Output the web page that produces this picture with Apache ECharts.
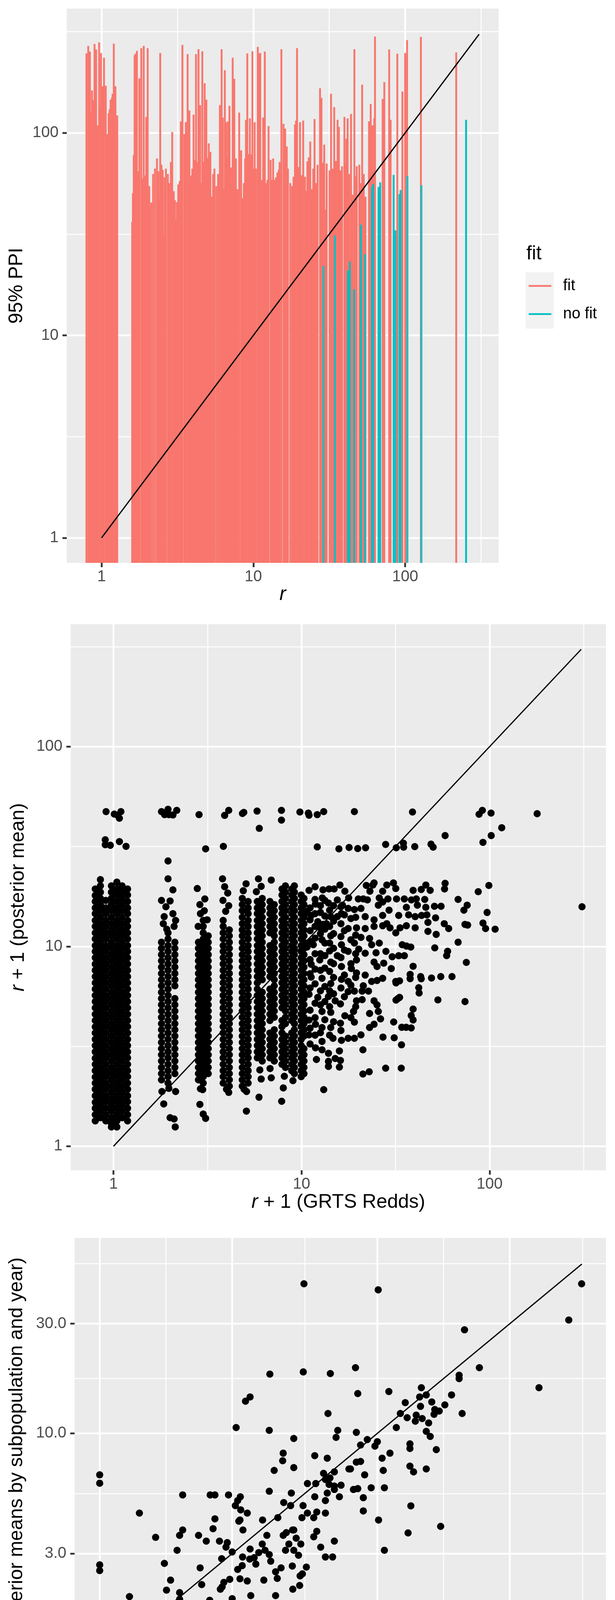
<!DOCTYPE html>
<html>
<head>
<meta charset="utf-8">
<title>GRTS redds vs posterior</title>
<script src="https://cdn.jsdelivr.net/npm/echarts@6.0.0/dist/echarts.min.js"></script>
<style>
  html, body { margin: 0; padding: 0; background: #ffffff; }
  #chart { width: 1575px; height: 4725px; }
</style>
</head>
<body>
<div id="chart"></div>
<script>
// ---------- panel 1: upper 95% PPI per r ----------
const ppiFit = [
  [0.795,247],[0.817,269],[0.838,252],[0.852,128],[0.865,162],[0.881,145],[0.899,275],[0.921,258],
  [0.938,109],[0.948,104],[0.964,280],[0.979,132],[0.992,248],[1.008,153],[1.018,170],[1.038,235],
  [1.066,171],[1.088,98.7],[1.097,78.7],[1.114,125],[1.13,131],[1.147,146],[1.163,75.4],[1.172,150],
  [1.182,156],[1.204,276],[1.234,170],[1.249,80.6],[1.268,122],
  [1.591,36.3],[1.609,50.4],[1.63,77.8],[1.651,242],[1.673,246],[1.709,254],[1.742,64.6],[1.774,186],
  [1.827,262],[1.862,59.6],[1.896,269],[1.935,61.5],[1.97,120],[2.013,262],[2.062,54.6],[2.09,42.4],
  [2.124,45.3],[2.185,62.6],[2.249,66.6],[2.317,74.7],[2.365,64.6],[2.391,47.4],[2.435,248],[2.483,69.6],
  [2.527,65.7],[2.572,31.3],[2.604,60.4],[2.655,66.6],[2.734,62.6],[2.793,56.5],[2.827,47.4],[2.862,71.8],
  [2.921,101],[2.988,51.5],[3.045,46.5],[3.09,37.3],[3.14,45.5],[3.2,55.6],[3.27,57.8],[3.33,114],
  [3.41,272],[3.51,98.7],[3.59,113],[3.69,245],[3.79,129],[3.86,60.4],[3.9,61.5],[3.96,66.6],
  [4.04,123],[4.11,73.6],[4.19,245],[4.27,71.8],[4.35,259],[4.46,137],[4.53,56.5],[4.61,253],
  [4.69,71.8],[4.78,176],[4.9,146],[4.98,75.4],[5.09,88.8],[5.21,80.6],[5.31,48.4],[5.43,62.6],
  [5.54,66.6],[5.7,54.6],[5.86,62.6],[6.02,137],[6.18,259],[6.29,119],[6.36,52.7],[6.49,204],
  [6.62,113],[6.71,75.7],[6.81,114],[6.96,136],[7.13,67.5],[7.31,235],[7.49,185],[7.67,74.7],
  [7.86,52.7],[8.07,126],[8.31,81.9],[8.49,47.6],[8.66,56.5],[8.83,74.7],[8.94,116],[9.12,247],
  [9.3,78.7],[9.49,118],[9.67,78.2],[9.86,253],[10.04,66.6],[10.2,113],[10.4,66.6],[10.7,266],
  [10.9,246],[11.1,248],[11.4,58.6],[11.6,119],[11.9,252],[12.2,56.5],[12.4,58.6],[12.6,108],
  [13.0,73.6],[13.2,58.6],[13.5,74.7],[13.8,58.6],[14.1,60.4],[14.4,63.7],[14.7,65.7],[14.9,71.8],
  [15.3,259],[15.8,111],[16.2,105],
  [16.6,85.7],[16.9,66.6],[17.5,56.5],[18.0,54.6],[18.4,60.7],[18.8,110],[19.1,115],[19.4,262],
  [19.9,67.8],[20.3,113],[20.8,61.8],[21.3,115],[21.9,60.7],[22.3,51.8],[22.7,72.4],[23.2,75.7],
  [23.7,90.7],[24.2,52.7],[24.5,45.8],[24.8,66.6],[25.3,117],[25.9,56.5],[26.5,69.6],[27.5,166],
  [28.1,149],[28.7,71.1],[29.3,87.5],[29.9,41.7],[30.4,70.5],[31.8,65.3],[32.5,156],[33.3,66.6],
  [34.1,134],[35.0,72.7],[35.9,116],[36.6,107],[37.4,65.3],[38.4,68.4],[39.8,120],[40.5,71.1],
  [41.0,93.5],[41.8,118],[42.8,62.6],[44.0,124],[45.1,49.5],[46.3,259],[47.1,61],[48.0,68.4],
  [49.9,69.6],[51.0,56.5],[52.1,173],[53.4,62.6],[54.8,48.4],[57.8,114],[59.3,139],[60.8,109],
  [62.6,118],[63.3,299],[71.1,147],[72.9,178],[78.5,258],[80.2,116],[88.8,246],[95.9,160],
  [100,248],[103,287],[127,298],[217,250]
]
const ppiNoFit = [
  [29.0,22.0],[34.4,31.1],[42.0,20.9],[43.2,23.1],[46.1,16.9],[51.1,35.2],[54.2,25.1],[60.5,54.1],
  [61.5,56.0],[66.8,54.1],[68.5,57.0],[84.0,62.0],[86.3,33.0],[91.7,49.9],[93.3,52.2],[103.5,61.1],
  [128,55.2],[252,116]
]
const lineP1 = [1, 307]

// ---------- panel 2: r + 1 (GRTS redds) vs posterior mean ----------
// jittered columns at r + 1 = 1..10: lane x positions and the y values along each lane
const col1X = [0.80, 0.852, 0.91, 0.975, 1.042, 1.111, 1.188]
const col1Y = [
  [1.34,1.44,1.55,1.66,1.79,1.93,2.07,2.22,2.39,2.57,2.76,2.97,3.19,3.43,3.69,3.96,4.26,4.58,4.93,5.3,5.69,6.12,6.58,7.07,7.6,8.16,8.78,9.44,10.1,10.9,11.7,12.6,13.5,14.6,15.6,16.8,18.0,19.4],
  [1.39,1.5,1.61,1.73,1.86,2.0,2.15,2.31,2.48,2.67,2.87,3.08,3.31,3.56,3.83,4.11,4.42,4.75,5.11,5.49,5.9,6.35,6.82,7.33,7.88,8.47,9.1,9.79,10.5,11.3,12.1,13.0,14.0,15.1,16.2,17.4,18.7,20.1,21.6],
  [1.34,1.44,1.55,1.67,1.79,1.93,2.07,2.23,2.39,2.57,2.77,2.97,3.19,3.43,3.69,3.97,4.26,4.58,4.93,5.3,5.69,6.12,6.58,7.07,7.6,8.17,8.78,9.44,10.1,10.9,11.7,12.6,13.5,14.6,15.6,17.0],
  [1.25,1.3,1.39,1.5,1.61,1.73,1.86,2.0,2.15,2.31,2.48,2.67,2.87,3.08,3.31,3.56,3.83,4.11,4.42,4.75,5.11,5.49,5.9,6.35,6.82,7.33,7.88,8.47,9.1,9.79,10.5,11.3,12.1,13.0,14.0,15.1,16.2,17.4,18.7,20.1],
  [1.25,1.34,1.44,1.55,1.67,1.79,1.93,2.07,2.23,2.39,2.57,2.77,2.97,3.19,3.43,3.69,3.97,4.26,4.58,4.93,5.3,5.69,6.12,6.58,7.07,7.6,8.17,8.78,9.44,10.1,10.9,11.7,12.6,13.5,14.6,15.6,16.8,18.1,19.4,21.0],
  [1.39,1.5,1.61,1.73,1.86,2.0,2.15,2.31,2.48,2.67,2.87,3.08,3.31,3.56,3.83,4.11,4.42,4.75,5.11,5.49,5.9,6.35,6.82,7.33,7.88,8.47,9.1,9.79,10.5,11.3,12.1,13.0,14.0,15.1,16.2,17.4,18.7,20.1],
  [1.34,1.44,1.55,1.67,1.79,1.93,2.07,2.23,2.39,2.57,2.77,2.97,3.19,3.43,3.69,3.97,4.26,4.58,4.93,5.3,5.69,6.12,6.58,7.07,7.6,8.17,8.78,9.44,10.1,10.9,11.7,12.6,13.5,14.6,15.6,16.8,18.1,19.4]
]
const col2X = [1.80, 1.95, 2.12]
const col2Y = [
  [2.15,2.31,2.48,2.67,2.87,3.08,3.31,3.56,3.83,4.11,4.42,4.75,5.11,5.49,5.9,6.35,6.82,7.33,7.88,8.47,9.1,9.79,10.5],
  [2.07,2.23,2.39,2.57,2.77,2.97,3.19,3.43,3.69,3.97,4.26,4.58,4.93,5.3,5.69,6.12,6.58,7.07,7.6,8.17,8.78,9.44,10.1,10.9,11.7],
  [2.31,2.48,2.67,2.87,3.08,3.31,3.56,3.83,4.11,4.42,4.75,5.11,5.49,6.35,6.82,7.33,7.88,8.47,9.1,9.79,10.5]
]
const col3X = [2.83, 3.0, 3.19]
const col3Y = [
  [2.15,2.31,2.48,2.67,2.87,3.08,3.31,3.56,3.83,4.11,4.42,4.75,5.11,5.49,5.9,6.35,6.82,7.33,7.88,8.47,9.1,9.79,10.5],
  [2.07,2.23,2.39,2.57,2.77,2.97,3.19,3.43,3.69,3.97,4.26,4.58,4.93,5.3,5.69,6.12,6.58,7.07,7.6,8.17,8.78,9.44,10.1,10.9,11.7,12.6,13.5],
  [2.31,2.48,2.67,2.87,3.08,3.31,3.56,3.83,4.11,4.42,4.75,5.11,5.49,5.9,6.35,6.82,7.33,7.88,8.47,9.1,9.79,10.5,11.3]
]
const col4X = [3.83, 4.13]
const col4Y = [
  [2.07,2.23,2.39,2.57,2.77,2.97,3.19,3.43,3.69,3.97,4.26,4.58,4.93,5.3,5.69,6.12,6.58,7.07,7.6,8.17,8.78,9.44,10.1,10.9,11.7,12.6,13.5],
  [2.0,2.15,2.31,2.48,2.67,2.87,3.08,3.31,3.56,3.83,4.11,4.42,4.75,5.11,5.49,5.9,6.35,6.82,7.33,7.88,8.47,9.1,9.79,10.5,11.3,12.1]
]
const col5X = [4.84, 5.2]
const col5Y = [
  [2.0,2.15,2.31,2.48,2.67,2.87,3.08,3.31,3.56,3.83,4.11,4.42,4.75,5.11,5.49,5.9,6.35,6.82,7.33,7.88,8.47,9.1,9.79,10.5,11.3,12.1,13.0,14.0,15.1,16.2,17.4],
  [2.07,2.23,2.39,2.57,2.77,2.97,3.19,3.43,3.69,3.97,4.26,4.58,4.93,5.3,5.69,6.12,6.58,7.07,7.6,8.17,8.78,9.44,10.1,10.9,11.7,12.6,13.5,14.6,15.6,16.8]
]
const col6X = [5.82, 6.18]
const col6Y = [
  [2.77,2.97,3.19,3.43,3.69,3.97,4.26,4.58,4.93,5.3,5.69,6.12,6.58,7.07,7.6,8.17,8.78,9.44,10.1,10.9,11.7,12.6,13.5,14.6,15.6,16.8],
  [2.67,2.87,3.08,3.31,3.56,3.83,4.11,4.42,4.75,5.11,5.49,5.9,6.82,7.33,7.88,8.47,9.1,9.79,10.5,11.3,12.1,13.0,14.0,15.1,16.2,17.4]
]
const col7X = [6.79, 7.16]
const col7Y = [
  [2.77,2.97,3.19,3.43,3.69,4.26,4.58,4.93,5.3,5.69,6.12,7.07,7.6,8.17,8.78,9.44,10.1,11.7,12.6,13.5,14.6,15.6,16.8],
  [2.67,2.87,3.08,3.31,3.56,3.83,4.42,4.75,5.11,5.49,5.9,6.35,6.82,7.33,7.88,8.47,9.1,9.79,10.5,11.3,12.1,13.0,14.0,15.1,16.2]
]
const col8X = [7.87, 8.21]
const col8Y = [
  [2.57,2.77,2.97,3.19,3.43,3.69,3.97,4.26,4.93,5.3,5.69,6.12,6.58,7.07,7.6,8.17,8.78,9.44,10.1,10.9,11.7,12.6,13.5,14.6,15.6,16.8,18.1,19.4],
  [2.48,2.67,2.87,3.08,3.31,3.56,4.11,4.42,4.75,5.11,5.49,5.9,6.35,6.82,7.33,7.88,8.47,9.1,9.79,10.5,11.3,12.1,13.0,14.0,15.1,16.2,17.4,18.7,20.1]
]
const col9X = [8.87, 9.16]
const col9Y = [
  [2.39,2.57,2.77,2.97,3.19,3.43,3.69,4.26,4.58,4.93,5.3,5.69,6.12,6.58,7.07,7.6,8.17,8.78,9.44,10.1,10.9,11.7,12.6,13.5,14.6,15.6,16.8,18.1,19.4],
  [2.31,2.48,2.67,2.87,3.08,3.31,3.56,3.83,4.11,4.42,4.75,5.11,5.49,5.9,6.35,6.82,7.33,7.88,8.47,9.1,9.79,10.5,11.3,12.1,13.0,14.0,15.1,16.2,17.4,18.7,20.1]
]
const col10X = [9.96, 10.3]
const col10Y = [
  [2.23,2.39,2.57,2.77,2.97,3.19,3.43,3.69,3.97,4.26,4.58,4.93,5.3,5.69,6.12,6.58,7.07,7.6,8.17,8.78,9.44,10.1,10.9,11.7,12.6,13.5,14.6,15.6,16.8,18.1],
  [2.31,2.48,2.67,2.87,3.08,3.56,3.83,4.11,4.42,4.75,5.11,5.49,5.9,6.35,6.82,7.33,7.88,8.47,9.1,9.79,10.5,11.3,12.1,13.0,14.0,15.1,16.2,17.4]
]
// single points off the columns (tops, tails, outliers)
const colOutliers = [
  [0.913,47.3],[1.01,46.0],[1.054,45.3],[1.095,47.3],[1.075,43.8],[0.904,34.2],[0.904,32.3],[0.962,32.1],
  [1.075,33.5],[1.166,31.7],
  [1.80,47.3],[1.87,45.7],[1.95,48.6],[1.97,45.7],[2.07,45.5],[2.17,48.0],[1.95,26.8],[1.95,21.8],
  [2.07,19.2],[2.0,16.9],[1.80,17.0],[1.90,15.8],[1.86,14.1],[1.84,13.0],[1.92,12.2],[2.07,14.6],
  [2.14,13.5],[2.10,12.6],[1.81,1.88],[1.85,1.63],[2.14,1.88],[2.0,1.39],[2.1,1.37],[2.13,1.25],[1.97,1.95],
  [2.85,45.7],[3.09,30.8],[2.79,19.5],[3.06,17.3],[2.88,16.2],[2.9,14.6],[3.04,15.1],[2.82,12.6],
  [3.15,13.6],[2.98,1.92],[2.88,1.62],[3.0,1.45],[3.09,1.38],[2.9,1.94],
  [3.80,21.8],[3.9,19.9],[4.05,18.5],[3.82,17.0],[4.1,16.0],[3.95,15.0],[3.9,45.3],[4.1,48.0],
  [3.84,31.7],[3.99,1.93],[4.1,1.86],
  [4.93,46.9],[4.85,46.3],[5.07,20.6],[4.9,19.0],[5.1,1.88],[5.09,1.5],[4.95,1.93],
  [5.8,47.6],[5.96,39.0],[5.9,21.8],[6.1,20.0],[5.75,18.8],[6.0,2.41],[6.1,2.17],[5.94,1.76],
  [6.9,21.5],[6.9,2.2],[6.8,2.45],
  [7.82,48.0],[7.82,42.9],[8.0,1.96],[7.84,1.68],[8.1,2.24],[9.0,2.13]
]
// everything right of r + 1 = 10.5
const cloudRight = [
  [9.80,47.1],[10.87,46.5],[10.96,45.4],[12.12,45.7],[13.12,47.3],[19.1,47.3],[38.9,47.1],[87.9,45.9],
  [91.5,48.0],[101.8,46.5],[179,46.2],
  [58.0,35.9],[116,39.3],[102,35.9],[92.2,33.2],[12.12,31.5],[15.8,30.8],[17.9,31.3],[19.9,30.9],
  [21.9,31.2],[28.0,32.4],[31.9,31.2],[34.9,31.4],[34.8,32.9],[40.0,31.6],[48.8,32.5],[50.1,31.4],
  [58.0,20.7],[57.6,19.4],[99.1,20.2],[87.0,18.8],[68.0,17.2],[76.0,16.1],[73.0,15.2],[97.0,14.8],
  [310,15.8],[92.2,13.1],[95.2,12.3],[107,12.2],[74.0,12.9],[76.4,12.8],[68.0,10.5],[51.1,9.84],
  [59.8,9.46],[59.1,9.0],[75.2,8.32],[63.1,7.07],[55.0,7.07],[49.1,6.95],[74.0,5.30],[53.1,5.40],
  [39.2,7.96],[37.8,7.25],[37.8,6.90],[43.0,7.07],[43.3,6.89],[42.0,6.22],[42.2,5.85],[33.2,6.73],
  [31.8,6.57],[33.2,5.56],[31.8,5.39],[39.2,4.86],[38.3,4.51],[39.2,4.29],[30.9,4.19],[34.1,3.94],
  [36.0,3.94],[38.3,3.91],[27.1,3.52],[31.1,3.49],[34.0,3.22],[28.0,2.46],[33.9,2.46],[21.2,3.04],
  [21.2,2.30],[22.9,2.36],[13.12,1.92],
  [11.8,19.9],[10.96,19.1],[13.0,19.2],[14.0,19.4],[14.9,19.4],[16.0,20.3],[17.0,18.9],[22.1,20.2],
  [24.3,20.8],[23.95,20.3],[23.1,18.9],[27.0,18.9],[28.4,20.3],[30.8,20.8],[31.7,19.5],[39.2,19.1],
  [43.3,19.3],[45.8,20.3],[48.3,19.1],
  [17.8,17.5],[20.05,17.3],[21.3,17.3],[22.4,17.1],[25.9,17.5],[27.0,16.7],[25.6,16.1],[28.8,17.3],
  [32.0,17.3],[35.2,17.3],[38.4,17.1],[40.75,17.3],[45.2,17.2],[36.1,15.7],[41.3,16.1],[45.8,15.7],
  [50.9,15.9],[55.2,15.9],[12.9,17.5],[11.86,16.3],[13.9,16.5],[15.5,17.1],[16.5,16.1],
  [17.7,15.5],[19.1,15.3],[20.7,15.5],[21.8,14.1],[24.3,13.6],[27.0,14.3],[29.2,15.2],[28.4,13.0],
  [32.85,14.3],[37.1,14.4],[40.2,14.1],[43.5,14.3],[46.4,14.4],[51.6,13.9],[57.4,13.0],[60.6,12.3],
  [47.0,13.2],[13.55,13.0],[14.3,14.1],[15.5,14.1],[16.3,14.6],[13.0,12.9],[12.2,13.3],[11.25,14.3],
  [10.7,14.8],
  [17.7,12.3],[19.6,12.4],[21.8,12.3],[24.3,12.6],[27.0,12.7],[29.55,12.4],[31.7,11.7],[33.4,12.4],
  [36.1,12.7],[40.2,12.4],[47.0,11.9],[52.0,11.5],[20.7,11.1],[23.0,10.97],[23.6,10.2],[25.9,10.4],
  [19.1,10.4],[16.3,10.2],[14.3,11.3],[12.85,10.8],[11.55,10.2],[10.7,9.93],[34.3,10.2],[36.1,10.05],
  [38.1,9.93],
  [17.7,9.45],[20.15,9.7],[21.8,9.25],[24.9,9.3],[28.1,9.45],[30.35,8.88],[32.85,8.99],[35.2,8.99],
  [24.3,8.35],[25.2,7.94],[27.35,8.25],[30.0,7.75],[19.6,8.56],[18.4,7.75],[16.3,7.94],[14.3,8.35],
  [12.5,8.56],[11.25,8.14],[15.5,8.99],
  [19.6,7.37],[21.8,7.19],[23.6,6.68],[25.2,6.76],[27.0,6.93],[31.7,6.68],[17.7,6.68],[16.3,6.85],
  [14.3,6.52],[12.85,6.93],[11.25,7.02],[21.3,6.36],
  [17.7,5.94],[19.1,5.98],[21.0,5.98],[22.7,5.98],[19.6,5.35],[21.0,5.42],[24.3,5.35],[25.2,5.10],
  [32.5,5.48],[13.9,5.62],[12.2,5.56],[10.96,5.76],[15.1,5.35],[16.1,5.16],[12.85,4.73],[14.3,4.68],
  [18.9,4.73],[23.0,4.62],[25.6,4.73],[26.3,4.34],[24.3,4.08],[23.0,3.93],[19.1,4.18],[17.0,4.50],
  [16.1,4.13],[14.3,3.93],[12.85,3.93],[11.86,4.08],[10.96,4.28],
  [20.7,3.61],[19.1,3.47],[17.7,3.47],[16.3,3.39],[14.7,3.47],[12.85,3.35],[11.86,3.11],[12.85,3.04],
  [13.9,2.92],[15.9,3.0],[10.96,3.61],
  [12.0,2.72],[13.9,2.66],[15.1,2.75],[16.1,2.69],[15.9,2.49],[13.9,2.51],
  // the crowded strip just right of 10
  [11.1,3.25],[11.8,3.6],[11.1,3.9],[11.8,4.4],[11.1,4.8],[11.8,5.2],[11.1,6.2],[11.8,6.5],
  [11.1,7.3],[11.8,7.7],[11.1,8.6],[11.8,9.2],[11.1,10.6],[11.8,11.0],[11.1,12.0],[11.8,12.6],
  [11.1,13.6],[11.8,14.6],[11.1,15.6],[11.8,17.2],
  [12.6,3.7],[13.3,4.3],[12.6,5.1],[13.3,5.3],[12.6,6.0],[13.3,6.3],[12.6,7.6],[13.3,7.8],
  [12.6,9.2],[13.3,9.0],[12.6,11.6],[13.3,10.4],[12.6,12.4],[13.3,12.2],[12.6,14.8],[13.3,14.2],
  [12.6,16.0],[13.3,17.0],
  [14.1,3.6],[14.8,4.2],[14.1,5.0],[14.8,5.8],[14.1,6.0],[14.8,7.0],[14.1,7.5],[14.8,8.2],
  [14.1,9.5],[14.8,9.8],[14.1,10.4],[14.8,11.6],[14.1,12.6],[14.8,13.4],[14.1,15.2],[14.8,16.0],
  [16.2,3.8],[16.9,5.6],[16.2,6.2],[16.9,7.2],[16.2,8.8],[16.9,9.6],[16.2,11.2],[16.9,12.0],
  [16.2,13.0],[16.9,14.4],[16.2,15.8],
  [18.3,4.4],[19.4,5.0],[18.3,6.4],[19.4,7.0],[18.3,8.2],[19.4,9.2],[18.3,10.8],[19.4,11.4],
  [18.3,13.8],[19.4,14.0]
]
const lineP2 = [1, 307]

// ---------- panel 3: means by subpopulation and year ----------
const subpopMeans = [
  [5.44,44.7],[10.07,42.1],[54.4,44.7],[48.9,31.1],[20.6,28.2],[23.3,19.3],[38.2,15.8],[8.34,19.3],
  [5.41,18.5],[6.77,18.2],[4.10,18.1],[8.5,14.9],[11.0,15.2],[19.7,17.9],[19.7,17.3],[3.35,13.8],
  [3.48,14.4],[14.4,15.8],[14.2,14.4],[15.0,14.7],[12.6,13.6],[18.5,14.7],[15.7,13.7],[14.3,13.1],
  [17.5,13.3],[16.1,12.7],[16.7,12.5],[16.0,12.1],[14.5,11.6],[13.8,12.0],[13.7,11.3],[12.1,12.2],
  [12.8,11.7],[15.3,11.1],[20.2,12.2],[6.64,12.2],[11.7,10.6],[15.0,10.2],[15.5,9.7],[16.3,8.5],
  [15.0,7.0],[13.5,6.8],[13.1,7.2],[13.1,8.6],[13.1,9.0],[13.2,4.84],[12.9,3.69],[16.9,3.94],
  [10.6,3.1],[10.1,4.2],[10.5,6.9],[10.6,5.8],[10.4,7.8],[11.1,8.2],[10.0,9.2],[9.8,8.8],
  [9.2,9.4],[8.7,8.9],[8.4,10.1],[9.0,6.6],[9.5,5.8],[8.9,5.25],[8.9,4.6],[8.5,5.75],
  [8.2,5.7],[8.4,7.5],[8.7,7.55],[7.9,7.0],[8.0,7.0],[7.1,9.6],[7.2,10.3],[7.0,6.8],
  [6.75,6.4],[6.4,6.7],[6.5,6.3],[6.7,6.0],[7.0,5.9],[7.4,5.95],[7.0,5.7],[7.3,5.3],
  [6.6,5.5],[6.5,5.1],[6.5,4.5],[6.05,4.55],[5.95,5.3],[6.0,6.05],[5.6,6.05],[6.6,7.8],
  [5.95,8.0],[5.0,9.5],[5.0,7.1],[4.9,5.5],[5.4,4.85],[5.6,4.5],[5.35,4.3],[5.9,4.3],
  [5.9,3.55],[6.05,3.75],[6.25,3.2],[6.5,2.9],[6.9,2.9],[7.0,3.4],[6.5,1.5],[6.3,1.23],
  [4.58,8.2],[4.56,7.6],[4.25,6.9],[4.08,10.3],[4.08,5.6],[4.38,4.3],[3.86,4.2],[4.6,5.0],
  [4.87,4.85],[5.0,3.8],[4.58,3.6],[4.7,3.7],[4.95,3.8],[5.1,3.5],[4.8,3.3],[5.3,3.3],
  [5.0,3.1],[4.67,3.1],[5.2,2.95],[4.94,2.65],[5.55,2.62],[5.37,2.45],[5.27,2.4],[5.25,2.18],
  [4.96,2.1],[4.0,3.6],[3.94,3.1],[4.08,2.97],[4.13,2.78],[3.85,3.3],[3.74,3.03],[3.48,3.14],
  [3.6,2.88],[3.47,2.84],[3.65,2.7],[4.3,2.5],[4.36,2.34],[4.5,2.6],[3.9,2.3],[4.3,1.97],
  [3.4,2.28],[3.5,1.97],[3.35,1.78],[3.4,1.7],[3.25,1.64],[4.2,1.29],[3.27,2.9],[3.26,2.66],
  [3.14,2.56],[3.2,2.33],[3.28,3.8],[3.2,4.2],[3.17,4.15],[3.22,4.65],[3.4,4.5],[3.14,5.1],
  [3.08,4.85],[3.21,5.3],[2.91,5.4],[2.85,3.2],[2.88,3.35],[3.0,3.05],[2.75,2.85],[2.94,2.32],
  [2.8,2.25],[2.76,2.15],[2.72,2.1],[3.0,1.91],[2.86,1.73],[2.77,1.64],[2.71,1.46],[2.6,5.4],
  [2.5,5.4],[2.6,4.25],[2.56,3.85],[2.7,3.4],[2.42,3.4],[2.27,3.6],[2.3,2.6],[2.33,2.2],
  [2.49,1.88],[2.48,1.62],[2.43,1.52],[2.46,1.55],[2.37,1.54],[2.33,1.77],[2.19,1.64],[2.25,1.4],
  [2.29,1.13],[2.28,0.9],[2.33,0.66],[2.07,1.37],[2.1,1.58],[2.07,1.14],[1.99,5.4],[1.99,3.8],
  [1.94,3.6],[1.9,3.1],[1.94,2.03],[1.94,1.9],[1.93,1.75],[1.8,2.3],[1.74,2.08],[1.71,2.72],
  [1.59,3.53],[1.96,1.2],[1.92,1.16],[1.94,1.13],[1.75,1.26],[1.82,1.11],[1.72,1.11],[1.63,1.26],
  [1.39,4.5],[1.39,1.72],[1.44,0.8],[1.27,1.41],[1.28,1.95],[1.23,1.16],[1.18,0.377],[1.0,6.6],
  [1.0,6.07],[1.0,2.68],[1.0,2.53],[1.0,1.64],[3.1,10.6]
]
const lineP3 = [1, 54.5]

// ---------- tick values ----------
const ticksDecade = [1, 10, 100]
const ticksDecadeMinor = [3.162, 31.62, 316.2]
const ticksP3X = [1, 3, 10, 30]
const ticksP3Y = [0.3, 1, 3, 10, 30]
const ticksP3Minor = [0.5477, 1.732, 5.477, 17.32, 54.77]

// ---------- chart ----------
const lg = Math.log10
const toLog = pts => pts.map(([x, y]) => [lg(x), lg(y)])
const lanes = (xs, ys) => xs.flatMap((x, i) => ys[i].map(y => [x, y]))

const FONT = "'Liberation Sans', Arial, Helvetica, sans-serif"
const RED = '#F8766D'
const TEAL = '#00BFC4'
const BAR_W = 4.8

const nameStyle = {
  fontSize: 50, color: '#000000', fontFamily: FONT,
  rich: { i: { fontStyle: 'italic', fontSize: 50, color: '#000000', fontFamily: FONT } },
}

const mainAxis = ({ gridIndex, range, ticks, fmt, name, nameGap, vertical }) => {
  const values = ticks.map(lg)
  return {
    type: 'value',
    gridIndex,
    position: vertical ? 'left' : 'bottom',
    min: lg(range[0]),
    max: lg(range[1]),
    axisLine: { show: false, onZero: false },
    axisTick: { show: true, length: 11, customValues: values, lineStyle: { color: '#333333', width: 4.6 } },
    axisLabel: {
      customValues: values,
      formatter: v => fmt(Math.pow(10, v)),
      color: '#4D4D4D',
      fontSize: 40,
      fontFamily: FONT,
      margin: vertical ? 21 : 16,
    },
    splitLine: { show: true, lineStyle: { color: '#FFFFFF', width: 4.6 } },
    name,
    nameLocation: 'middle',
    nameGap,
    nameRotate: vertical ? 90 : 0,
    nameTextStyle: nameStyle,
    nameMoveOverlap: false,
  }
}

const minorAxis = ({ gridIndex, range, ticks, vertical }) => ({
  type: 'value',
  gridIndex,
  position: vertical ? 'right' : 'top',
  min: lg(range[0]),
  max: lg(range[1]),
  axisLine: { show: false, onZero: false },
  axisTick: { show: false, customValues: ticks.map(lg) },
  axisLabel: { show: false },
  splitLine: { show: true, lineStyle: { color: '#FFFFFF', width: 2.4 } },
})

const whole = v => String(Math.round(v))
const oneDecimal = v => v.toFixed(1)

const barSeries = (name, data, color) => ({
  name,
  type: 'custom',
  xAxisIndex: 0,
  yAxisIndex: 0,
  clip: true,
  itemStyle: { color },
  data: toLog(data),
  renderItem: (params, api) => {
    const top = api.coord([api.value(0), api.value(1)])
    const cs = params.coordSys
    return {
      type: 'rect',
      shape: { x: top[0] - BAR_W / 2, y: top[1], width: BAR_W, height: cs.y + cs.height - top[1] },
      style: { fill: color },
    }
  },
})

const identity = (ends, axisIndex) => ({
  type: 'line',
  xAxisIndex: axisIndex,
  yAxisIndex: axisIndex,
  data: ends.map(v => [lg(v), lg(v)]),
  symbol: 'none',
  silent: true,
  z: 5,
  lineStyle: { color: '#000000', width: 3.2 },
})

const dots = (data, axisIndex) => ({
  type: 'scatter',
  xAxisIndex: axisIndex,
  yAxisIndex: axisIndex,
  data: toLog(data),
  symbol: 'circle',
  symbolSize: 18.5,
  silent: true,
  itemStyle: { color: '#000000', opacity: 1 },
})

const reddPoints = [
  ...lanes(col1X, col1Y), ...lanes(col2X, col2Y), ...lanes(col3X, col3Y), ...lanes(col4X, col4Y),
  ...lanes(col5X, col5Y), ...lanes(col6X, col6Y), ...lanes(col7X, col7Y), ...lanes(col8X, col8Y),
  ...lanes(col9X, col9Y), ...lanes(col10X, col10Y), ...colOutliers, ...cloudRight,
]

const panelGrid = g => ({ ...g, show: true, backgroundColor: '#EBEBEB', borderWidth: 0, containLabel: false, outerBoundsMode: 'none' })

const option = {
  animation: false,
  backgroundColor: '#FFFFFF',
  grid: [
    panelGrid({ left: 171, top: 22, width: 1106, height: 1419 }),
    panelGrid({ left: 181, top: 1598, width: 1371, height: 1398 }),
    panelGrid({ left: 191, top: 3169, width: 1361, height: 1402 }),
  ],
  xAxis: [
    mainAxis({ gridIndex: 0, range: [0.590, 413], ticks: ticksDecade, fmt: whole, name: '{i|r}', nameGap: 56 }),
    minorAxis({ gridIndex: 0, range: [0.590, 413], ticks: ticksDecadeMinor }),
    mainAxis({ gridIndex: 1, range: [0.592, 416], ticks: ticksDecade, fmt: whole, name: '{i|r} + 1 (GRTS Redds)', nameGap: 57 }),
    minorAxis({ gridIndex: 1, range: [0.592, 416], ticks: ticksDecadeMinor }),
    mainAxis({ gridIndex: 2, range: [0.812, 66.6], ticks: ticksP3X, fmt: whole, name: '{i|r} + 1 (GRTS Redds) mean by subpopulation and year', nameGap: 57 }),
    minorAxis({ gridIndex: 2, range: [0.812, 66.6], ticks: ticksP3Minor }),
  ],
  yAxis: [
    mainAxis({ gridIndex: 0, range: [0.752, 411], ticks: ticksDecade, fmt: whole, name: '95% PPI', nameGap: 103, vertical: true }),
    minorAxis({ gridIndex: 0, range: [0.752, 411], ticks: ticksDecadeMinor, vertical: true }),
    mainAxis({ gridIndex: 1, range: [0.758, 410], ticks: ticksDecade, fmt: whole, name: '{i|r} + 1 (posterior mean)', nameGap: 109, vertical: true }),
    minorAxis({ gridIndex: 1, range: [0.758, 410], ticks: ticksDecadeMinor, vertical: true }),
    mainAxis({ gridIndex: 2, range: [0.294, 70.8], ticks: ticksP3Y, fmt: oneDecimal, name: '{i|r} + 1 (mean of posterior means by subpopulation and year)', nameGap: 123, vertical: true }),
    minorAxis({ gridIndex: 2, range: [0.294, 70.8], ticks: ticksP3Minor, vertical: true }),
  ],
  title: {
    text: 'fit',
    left: 1343,
    top: 620,
    textStyle: { fontSize: 50, fontWeight: 'normal', color: '#000000', fontFamily: FONT },
  },
  legend: {
    data: [{ name: 'fit', icon: 'rect' }, { name: 'no fit', icon: 'rect' }],
    orient: 'vertical',
    left: 1349,
    top: 707,
    itemWidth: 58,
    itemHeight: 4.5,
    itemGap: 32,
    selectedMode: false,
    textStyle: { fontSize: 40, color: '#000000', fontFamily: FONT, padding: [0, 0, 0, 25] },
  },
  graphic: [
    { type: 'rect', left: 1346, top: 697, shape: { width: 72, height: 72 }, style: { fill: '#F2F2F2' }, z: 0 },
    { type: 'rect', left: 1346, top: 769, shape: { width: 72, height: 72 }, style: { fill: '#F2F2F2' }, z: 0 },
  ],
  series: [
    barSeries('fit', ppiFit, RED),
    barSeries('no fit', ppiNoFit, TEAL),
    identity(lineP1, 0),
    dots(reddPoints, 2),
    identity(lineP2, 2),
    dots(subpopMeans, 4),
    identity(lineP3, 4),
  ],
}

const chart = echarts.init(document.getElementById('chart'))
chart.setOption(option)
</script>
</body>
</html>
